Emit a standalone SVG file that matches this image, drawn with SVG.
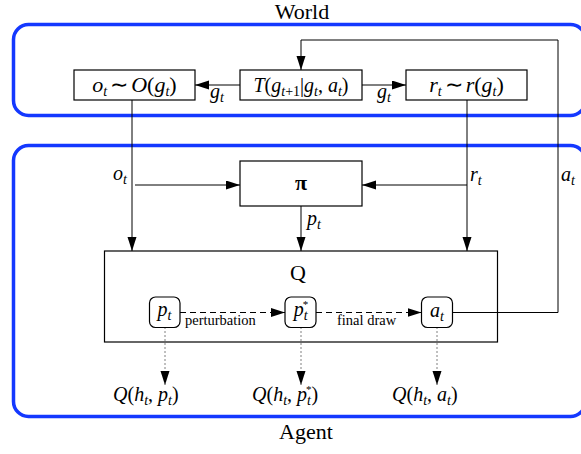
<svg xmlns="http://www.w3.org/2000/svg" width="581" height="454" viewBox="0 0 581 454">
<style>
.blue{fill:none;stroke:#1438ff;stroke-width:3.5}
.box{fill:#fff;stroke:#000;stroke-width:1.2}
.ln{fill:none;stroke:#000;stroke-width:1}
.dash{stroke-dasharray:6,4}
.dot{stroke-dasharray:1,3}
.m{font-family:"Liberation Serif","Times New Roman",serif;font-style:italic;font-size:20px;fill:#000}
.b{font-size:22px}
.r{font-style:normal}
.s{font-size:14px}
.st{font-size:11px;font-style:normal}
.t{font-family:"Liberation Serif","Times New Roman",serif;font-size:22px;fill:#000}
.sm{font-family:"Liberation Serif","Times New Roman",serif;font-size:14.5px;fill:#000}
</style>
<defs>
<marker id="ah" markerWidth="15" markerHeight="10" refX="14" refY="4.5" orient="auto" markerUnits="userSpaceOnUse">
<polygon points="0,0 14,4.5 0,9" fill="#000"/>
</marker>
</defs>

<g id="world-frame">
<rect class="blue" x="13.5" y="24.5" width="572" height="91" rx="15"/>
<text class="t" x="302" y="19" text-anchor="middle" font-size="20.5">World</text>
</g>
<g id="agent-frame">
<rect class="blue" x="13.5" y="145.5" width="572" height="271" rx="15"/>
<text class="t" x="306" y="439" text-anchor="middle">Agent</text>
</g>

<g id="obs">
<rect class="box" x="74" y="70" width="121" height="30"/>
<text class="m b" x="134.5" y="92" text-anchor="middle">o<tspan class="s" dy="4">t</tspan><tspan class="r" dy="-4" dx="3">∼</tspan><tspan dx="3">O</tspan><tspan class="r">(</tspan>g<tspan class="s" dy="4">t</tspan><tspan class="r" dy="-4">)</tspan></text>
</g>
<g id="trans">
<rect class="box" x="240" y="70" width="122" height="30"/>
<text class="m" x="301" y="92" text-anchor="middle" font-size="21">T<tspan class="r">(</tspan>g<tspan class="s" dy="4">t</tspan><tspan class="s r">+1</tspan><tspan class="r" dy="-4">|</tspan>g<tspan class="s" dy="4">t</tspan><tspan class="r" dy="-4">, </tspan>a<tspan class="s" dy="4">t</tspan><tspan class="r" dy="-4">)</tspan></text>
</g>
<g id="reward">
<rect class="box" x="406" y="70" width="121" height="30"/>
<text class="m b" x="466.5" y="92" text-anchor="middle">r<tspan class="s" dy="4">t</tspan><tspan class="r" dy="-4" dx="3">∼</tspan><tspan dx="3">r</tspan><tspan class="r">(</tspan>g<tspan class="s" dy="4">t</tspan><tspan class="r" dy="-4">)</tspan></text>
</g>
<g id="pi">
<rect class="box" x="240" y="161" width="122" height="45"/>
<text class="t" x="301" y="190" text-anchor="middle" font-weight="bold" font-size="25">π</text>
</g>
<g id="Q">
<rect class="box" x="104.5" y="251" width="393" height="91"/>
<text class="t" x="298" y="280" text-anchor="middle" font-size="23">Q</text>
</g>
<g id="pt">
<rect class="box" x="149.5" y="297" width="30.5" height="30.5" rx="6"/>
<text class="m" x="164.5" y="316" text-anchor="middle">p<tspan class="s" dy="4">t</tspan></text>
</g>
<g id="ptstar">
<rect class="box" x="285" y="297" width="31" height="30.5" rx="6"/>
<text class="m" x="301" y="316" text-anchor="middle">p<tspan class="s" dy="4">t</tspan><tspan class="st" dx="-5" dy="-12">*</tspan></text>
</g>
<g id="at">
<rect class="box" x="421.5" y="297" width="31" height="30.5" rx="6"/>
<text class="m" x="437" y="317" text-anchor="middle">a<tspan class="s" dy="4">t</tspan></text>
</g>
<g id="q-pt">
<text class="m" x="113" y="401">Q<tspan class="r">(</tspan>h<tspan class="s" dy="4">t</tspan><tspan class="r" dy="-4">, </tspan>p<tspan class="s" dy="4">t</tspan><tspan class="r" dy="-4">)</tspan></text>
</g>
<g id="q-ptstar">
<text class="m" x="252" y="401">Q<tspan class="r">(</tspan>h<tspan class="s" dy="4">t</tspan><tspan class="r" dy="-4">, </tspan>p<tspan class="s" dy="4">t</tspan><tspan class="st" dx="-5" dy="-12">*</tspan><tspan class="r" dy="8">)</tspan></text>
</g>
<g id="q-at">
<text class="m" x="392" y="401">Q<tspan class="r">(</tspan>h<tspan class="s" dy="4">t</tspan><tspan class="r" dy="-4">, </tspan>a<tspan class="s" dy="4">t</tspan><tspan class="r" dy="-4">)</tspan></text>
</g>

<g id="connectors">
<path class="ln" d="M240,85 H195" marker-end="url(#ah)"/>
<path class="ln" d="M362,85 H406" marker-end="url(#ah)"/>
<path class="ln" d="M452.5,312.5 H558 V40 H301 V70" marker-end="url(#ah)"/>
<path class="ln" d="M132,100 V251" marker-end="url(#ah)"/>
<path class="ln" d="M467,100 V251" marker-end="url(#ah)"/>
<path class="ln" d="M135,185 H240" marker-end="url(#ah)"/>
<path class="ln" d="M467,185 H362" marker-end="url(#ah)"/>
<path class="ln" d="M301,206 V251" marker-end="url(#ah)"/>
<path class="ln dash" d="M180,312.5 H285" marker-end="url(#ah)"/>
<path class="ln dash" d="M316,312.5 H421.5" marker-end="url(#ah)"/>
<path class="ln dot" d="M165,327.5 V385" marker-end="url(#ah)"/>
<path class="ln dot" d="M301,327.5 V385" marker-end="url(#ah)"/>
<path class="ln dot" d="M437,327.5 V385" marker-end="url(#ah)"/>
<text class="m" x="210" y="98">g<tspan class="s" dy="4">t</tspan></text>
<text class="m" x="377" y="98">g<tspan class="s" dy="4">t</tspan></text>
<text class="m" x="113" y="180">o<tspan class="s" dy="4">t</tspan></text>
<text class="m" x="470" y="181">r<tspan class="s" dy="4">t</tspan></text>
<text class="m" x="561" y="181">a<tspan class="s" dy="4">t</tspan></text>
<text class="m" x="307" y="225">p<tspan class="s" dy="4">t</tspan></text>
<text class="sm" x="185" y="325">perturbation</text>
<text class="sm" x="337" y="325">final draw</text>
</g>
</svg>
